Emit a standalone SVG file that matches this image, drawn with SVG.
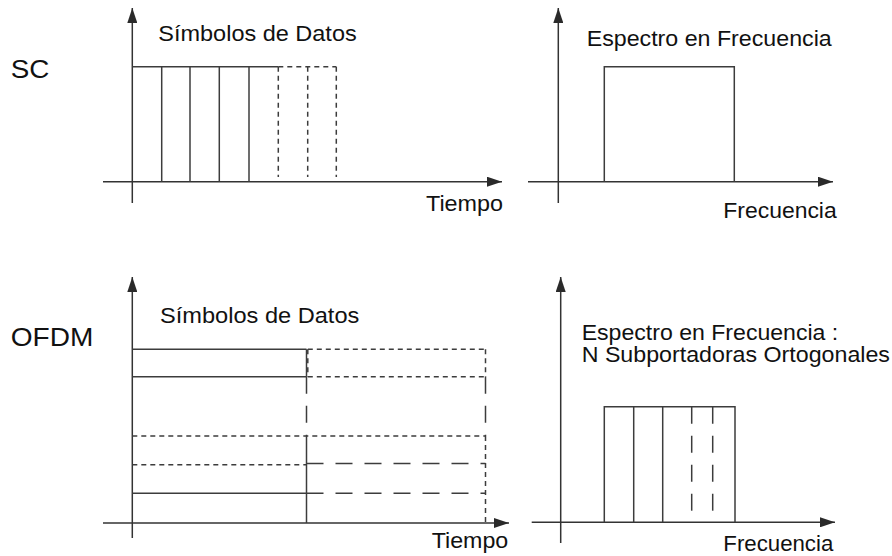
<svg xmlns="http://www.w3.org/2000/svg" width="892" height="556" viewBox="0 0 892 556">
<style>
  .ln { stroke:#3c3c3c; stroke-width:1.5; fill:none; }
  .ax { stroke:#333; stroke-width:1.5; fill:none; }
  .sd { stroke:#3c3c3c; stroke-width:1.5; fill:none; stroke-dasharray:5 4; }
  .ld { stroke:#3c3c3c; stroke-width:1.5; fill:none; stroke-dasharray:17 12; }
  .t { font-family:"Liberation Sans", Arial, sans-serif; font-size:22px; fill:#111; }
  .big { font-family:"Liberation Sans", Arial, sans-serif; font-size:26px; fill:#111; }
</style>
<defs>
  <marker id="arr" viewBox="0 0 15 10" refX="15" refY="5" markerWidth="15" markerHeight="10" markerUnits="userSpaceOnUse" orient="auto">
    <path d="M0,0 L15,5 L0,10 Z" fill="#2a2a2a"/>
  </marker>
</defs>
<rect width="892" height="556" fill="#fff"/>

<g id="labels">
  <text class="big" x="10.7" y="78.3" textLength="38.6" lengthAdjust="spacingAndGlyphs">SC</text>
  <text class="big" x="10.7" y="346" textLength="82.6" lengthAdjust="spacingAndGlyphs">OFDM</text>
</g>

<g id="connectors">
  <line class="ax" x1="132.3" y1="203" x2="132.3" y2="8" marker-end="url(#arr)"/>
  <line class="ax" x1="103" y1="181.7" x2="502" y2="181.7" marker-end="url(#arr)"/>
  <line class="ax" x1="558.3" y1="203" x2="558.3" y2="8" marker-end="url(#arr)"/>
  <line class="ax" x1="528" y1="181.7" x2="833" y2="181.7" marker-end="url(#arr)"/>
  <line class="ax" x1="132.3" y1="538" x2="132.3" y2="277" marker-end="url(#arr)"/>
  <line class="ax" x1="103" y1="523" x2="509" y2="523" marker-end="url(#arr)"/>
  <line class="ax" x1="560.7" y1="543" x2="560.7" y2="277" marker-end="url(#arr)"/>
  <line class="ax" x1="531.7" y1="522.3" x2="835" y2="522.3" marker-end="url(#arr)"/>
</g>

<g id="sc-time">
  <text class="t" x="158.3" y="40.5" textLength="198.4" lengthAdjust="spacingAndGlyphs">Símbolos de Datos</text>
  <text class="t" x="426" y="211" textLength="77" lengthAdjust="spacingAndGlyphs">Tiempo</text>
  <line class="ln" x1="132.3" y1="66.7" x2="278.3" y2="66.7"/>
  <line class="ln" x1="161.7" y1="66.7" x2="161.7" y2="181.7"/>
  <line class="ln" x1="190" y1="66.7" x2="190" y2="181.7"/>
  <line class="ln" x1="219.3" y1="66.7" x2="219.3" y2="181.7"/>
  <line class="ln" x1="249" y1="66.7" x2="249" y2="181.7"/>
  <line class="sd" x1="278.3" y1="66.7" x2="336.3" y2="66.7"/>
  <line class="sd" x1="278.3" y1="66.7" x2="278.3" y2="177"/>
  <line class="sd" x1="307.7" y1="66.7" x2="307.7" y2="177"/>
  <line class="sd" x1="336.3" y1="66.7" x2="336.3" y2="177"/>
</g>

<g id="sc-freq">
  <text class="t" x="586.7" y="45.5" textLength="245" lengthAdjust="spacingAndGlyphs">Espectro en Frecuencia</text>
  <text class="t" x="723.3" y="218" textLength="113.4" lengthAdjust="spacingAndGlyphs">Frecuencia</text>
  <polyline class="ln" points="604.3,181.7 604.3,66.7 734.3,66.7 734.3,181.7"/>
</g>

<g id="ofdm-time">
  <text class="t" x="160" y="323" textLength="199.3" lengthAdjust="spacingAndGlyphs">Símbolos de Datos</text>
  <text class="t" x="431.7" y="548.3" textLength="76.6" lengthAdjust="spacingAndGlyphs">Tiempo</text>
  <line class="ln" x1="132.3" y1="349.3" x2="306.5" y2="349.3"/>
  <line class="ln" x1="132.3" y1="376.8" x2="306.5" y2="376.8"/>
  <line class="ln" x1="306.5" y1="349.3" x2="306.5" y2="376.8"/>
  <line class="sd" x1="307.8" y1="349.3" x2="307.8" y2="376.8"/>
  <line class="ld" x1="306.5" y1="376.8" x2="306.5" y2="436"/>
  <line class="ln" x1="306.5" y1="436" x2="306.5" y2="523"/>
  <line class="sd" x1="132.3" y1="464.8" x2="306.5" y2="464.8"/>
  <line class="ln" x1="132.3" y1="493.3" x2="306.5" y2="493.3"/>
  <line class="sd" x1="307.8" y1="349.3" x2="485.5" y2="349.3"/>
  <line class="sd" x1="307.8" y1="376.8" x2="485.5" y2="376.8"/>
  <line class="sd" x1="485.5" y1="349.3" x2="485.5" y2="376.8"/>
  <line class="ld" x1="485.5" y1="376.8" x2="485.5" y2="436"/>
  <line class="sd" x1="132.3" y1="436" x2="485.5" y2="436"/>
  <line class="sd" x1="485.5" y1="436" x2="485.5" y2="523"/>
  <line class="ld" x1="306.5" y1="463.5" x2="485.5" y2="463.5"/>
  <line class="ld" x1="306.5" y1="493.3" x2="485.5" y2="493.3"/>
</g>

<g id="ofdm-freq">
  <text class="t" x="581.7" y="339.5" textLength="256.6" lengthAdjust="spacingAndGlyphs">Espectro en Frecuencia :</text>
  <text class="t" x="581.7" y="362" textLength="308.3" lengthAdjust="spacingAndGlyphs">N Subportadoras Ortogonales</text>
  <text class="t" x="723.3" y="551" textLength="110" lengthAdjust="spacingAndGlyphs">Frecuencia</text>
  <polyline class="ln" points="604.3,522.3 604.3,406.7 735,406.7 735,522.3"/>
  <line class="ln" x1="633.7" y1="406.7" x2="633.7" y2="522.3"/>
  <line class="ln" x1="662.7" y1="406.7" x2="662.7" y2="522.3"/>
  <line class="ld" x1="691.7" y1="406.7" x2="691.7" y2="512"/>
  <line class="ld" x1="712.7" y1="406.7" x2="712.7" y2="512"/>
</g>
</svg>
